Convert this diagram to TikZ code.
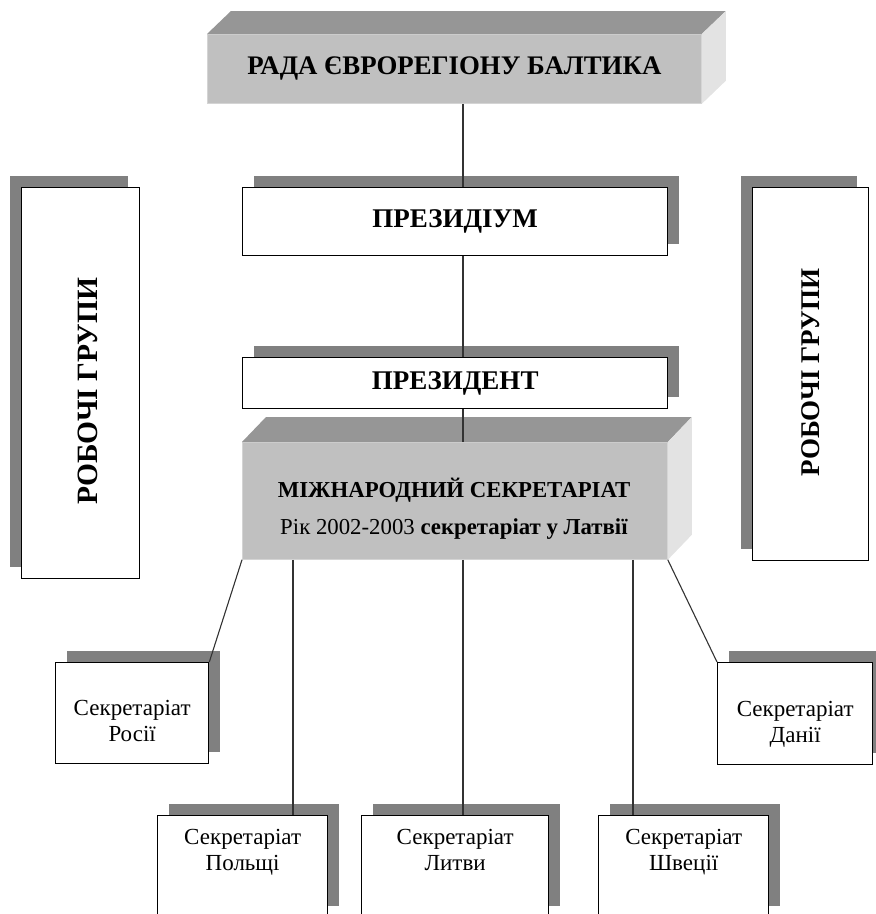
\documentclass[tikz,border=0pt]{standalone}
\usepackage{fontspec}
\setmainfont{Liberation Serif}
\usetikzlibrary{calc,shadows}
\definecolor{shadowgray}{HTML}{808080}
\definecolor{frontgray}{HTML}{C0C0C0}
\definecolor{frontedge}{HTML}{D4D4D4}
\definecolor{topgray}{HTML}{969696}
\definecolor{sidegray}{HTML}{E3E3E3}
\definecolor{linegray}{HTML}{333333}
\begin{document}
\begin{tikzpicture}[x=1pt,y=-1pt,
  box/.style={draw=black, line width=1.3pt, fill=white, inner sep=0pt, anchor=north west, align=center},
  shadowUR/.style={general shadow={fill=shadowgray, shadow xshift=11.5pt, shadow yshift=11.5pt}},
  shadowUL/.style={general shadow={fill=shadowgray, shadow xshift=-11.5pt, shadow yshift=11.5pt}},
  solidfront/.style={fill=frontgray, draw=frontedge, line width=0.8pt, inner sep=0pt, anchor=north west, align=center},
  topface/.style={fill=topgray},
  sideface/.style={fill=sidegray},
  conn/.style={draw=linegray, line width=1.1pt},
  txt/.style={inner sep=0pt, align=center},
  titlefont/.style={font=\bfseries\fontsize{26.8}{30}\selectfont},
  headfont/.style={font=\bfseries\fontsize{27}{30}\selectfont},
  intlfont/.style={font=\fontsize{22.8}{37}\selectfont},
  smallfont/.style={font=\fontsize{23}{26}\selectfont}
]
\useasboundingbox (0,0) rectangle (876,914);
\clip (0,0) rectangle (876,914);

% Council (3D box)
\node[solidfront, titlefont, minimum width=494pt, minimum height=69pt] (rada) at (207,34) {РАДА ЄВРОРЕГІОНУ БАЛТИКА};
\fill[topface] (rada.north west) -- ++(24,-23) -- ($(rada.north east)+(24,-23)$) -- (rada.north east) -- cycle;
\fill[sideface] (rada.north east) -- ++(24,-23) -- ($(rada.south east)+(24,-23)$) -- (rada.south east) -- cycle;

% Presidium and President
\node[box, shadowUR, headfont, minimum width=425pt, minimum height=68pt] (prez) at (242,187) {ПРЕЗИДІУМ};
\node[box, shadowUR, headfont, minimum width=425pt, minimum height=51pt] (pres) at (242,357) {ПРЕЗИДЕНТ};

% Working groups
\node[box, shadowUL, minimum width=118pt, minimum height=391pt] (robL) at (21,187) {};
\node[txt, rotate=90, anchor=base, font=\bfseries\fontsize{29.5}{32}\selectfont] (robLtxt) at (97,391) {РОБОЧІ ГРУПИ};
\node[box, shadowUL, minimum width=116pt, minimum height=373pt] (robR) at (752,187) {};
\node[txt, rotate=90, anchor=base, font=\bfseries\fontsize{27}{30}\selectfont] (robRtxt) at (819,372.5) {РОБОЧІ ГРУПИ};

% International secretariat (3D box)
\node[solidfront, minimum width=425pt, minimum height=117pt] (intl) at (242,442) {};
\fill[topface] (intl.north west) -- ++(24,-25) -- ($(intl.north east)+(24,-25)$) -- (intl.north east) -- cycle;
\fill[sideface] (intl.north east) -- ++(24,-25) -- ($(intl.south east)+(24,-25)$) -- (intl.south east) -- cycle;
\node[txt, intlfont, anchor=north] (intltxt) at (454,471.1) {\strut\textbf{МІЖНАРОДНИЙ СЕКРЕТАРІАТ}\\Рік 2002-2003 \textbf{секретаріат у Латвії}};

% National secretariats
\node[box, shadowUR, minimum width=153pt, minimum height=101pt] (rus) at (55,662) {};
\node[txt, smallfont, anchor=north] (rustxt) at (rus.north |- 0,697) {\strut Секретаріат\\Росії};
\node[box, shadowUR, minimum width=155pt, minimum height=102pt] (den) at (717,662) {};
\node[txt, smallfont, anchor=north] (dentxt) at (den.north |- 0,698) {\strut Секретаріат\\Данії};
\node[box, shadowUR, minimum width=170pt, minimum height=102pt] (pol) at (157,815) {};
\node[txt, smallfont, anchor=north] (poltxt) at (pol.north |- 0,826) {\strut Секретаріат\\Польщі};
\node[box, shadowUR, minimum width=187pt, minimum height=102pt] (lit) at (361,815) {};
\node[txt, smallfont, anchor=north] (littxt) at (lit.north |- 0,826) {\strut Секретаріат\\Литви};
\node[box, shadowUR, minimum width=170pt, minimum height=102pt] (swe) at (598,815) {};
\node[txt, smallfont, anchor=north] (swetxt) at (swe.north |- 0,826) {\strut Секретаріат\\Швеції};

% Connectors
\coordinate (spine) at (463,0);
\coordinate (polx) at (293,0);
\coordinate (swex) at (633,0);
\draw[conn] (rada.south -| spine) -- (prez.north -| spine);
\draw[conn] (prez.south -| spine) -- (pres.north -| spine);
\draw[conn] (pres.south -| spine) -- (intl.north -| spine);
\draw[conn] (intl.south west) -- (rus.north east);
\draw[conn] (intl.south -| polx) -- (pol.north -| polx);
\draw[conn] (intl.south -| spine) -- (lit.north -| spine);
\draw[conn] (intl.south -| swex) -- (swe.north -| swex);
\draw[conn] (intl.south east) -- (den.north west);
\end{tikzpicture}
\end{document}
